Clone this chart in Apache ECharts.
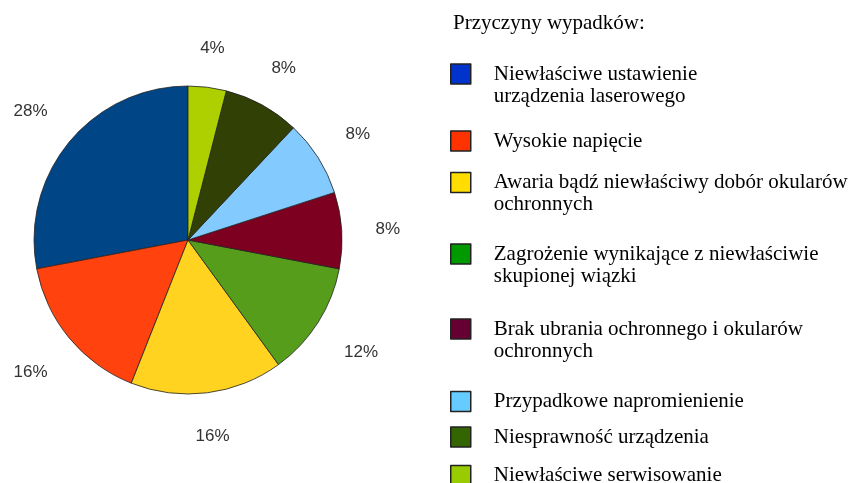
<!DOCTYPE html>
<html><head><meta charset="utf-8">
<script src="https://cdn.jsdelivr.net/npm/echarts@6/dist/echarts.min.js"></script>
<style>html,body{margin:0;padding:0;background:#fff}#c{width:854px;height:483px}</style>
</head><body><div id="c"></div>
<script>
const titleText = 'Przyczyny wypadków:';
const categories = [
  'Niewłaściwe ustawienie\nurządzenia laserowego',
  'Wysokie napięcie',
  'Awaria bądź niewłaściwy dobór okularów\nochronnych',
  'Zagrożenie wynikające z niewłaściwie\nskupionej wiązki',
  'Brak ubrania ochronnego i okularów\nochronnych',
  'Przypadkowe napromienienie',
  'Niesprawność urządzenia',
  'Niewłaściwe serwisowanie'
];
const values = [28, 16, 16, 12, 8, 8, 8, 4];
const sliceColors = ['#004586', '#ff420e', '#ffd320', '#579d1c', '#7e0021', '#83caff', '#314004', '#aecf00'];
const legendColors = ['#0033cc', '#ff3300', '#ffdd00', '#009900', '#660033', '#66ccff', '#336600', '#99cc00'];
const legendCenters = [74, 141, 182.5, 254, 329, 401.5, 437, 475.5];

const PIE_CX = 188, PIE_CY = 240;
const chart = echarts.init(document.getElementById('c'), null, {renderer: 'canvas'});
const pieData = categories.map((n, i) => ({name: n, value: values[i], itemStyle: {color: sliceColors[i]}}));
const labelData = categories.map((n, i) => ({name: n, value: values[i]}));

const legends = categories.map((name, i) => {
  const multi = name.indexOf('\n') >= 0;
  return {
    orient: 'vertical', left: 450, top: legendCenters[i] - (multi ? 33 : 11), padding: 0,
    itemWidth: 20, itemHeight: 20, itemGap: 0, icon: 'rect', selectedMode: false,
    formatter: multi ? '\n{name}' : '{name}',
    itemStyle: {borderColor: '#222', borderWidth: 1.5},
    textStyle: {fontFamily: 'Liberation Serif', fontSize: 21, lineHeight: 22, color: '#000', padding: [0, 0, 0, 18]},
    data: [{name: name, itemStyle: {color: legendColors[i]}}]
  };
});

chart.setOption({
  animation: false,
  title: {
    text: titleText, left: 453, top: 13, padding: 0,
    textStyle: {fontFamily: 'Liberation Serif', fontSize: 21, fontWeight: 'normal', color: '#000'}
  },
  legend: legends,
  series: [
    {
      type: 'pie', center: [PIE_CX, PIE_CY], radius: [0, 154], startAngle: 90, clockwise: false,
      label: {show: false}, labelLine: {show: false},
      itemStyle: {borderColor: '#222', borderWidth: 0.8},
      emphasis: {disabled: true},
      data: pieData
    },
    {
      type: 'pie', center: [PIE_CX, PIE_CY], radius: [170, 199], startAngle: 90, clockwise: false,
      silent: true, emphasis: {disabled: true},
      itemStyle: {color: 'rgba(0,0,0,0)', borderWidth: 0},
      label: {show: true, position: 'inside', formatter: '{c}%', fontFamily: 'Liberation Sans', fontSize: 17, color: '#333'},
      labelLine: {show: false},
      // push each label outward by its own half-extent along the radial direction
      labelLayout: function (p) {
        const r = p.labelRect;
        let ux = r.x + r.width / 2 - PIE_CX, uy = r.y + r.height / 2 - PIE_CY;
        const L = Math.hypot(ux, uy) || 1; ux /= L; uy /= L;
        const ext = Math.abs(ux) * r.width / 2 + Math.abs(uy) * r.height * 0.35;
        return {dx: ux * ext, dy: uy * ext + 2};
      },
      data: labelData
    }
  ]
});
</script>
</body></html>
